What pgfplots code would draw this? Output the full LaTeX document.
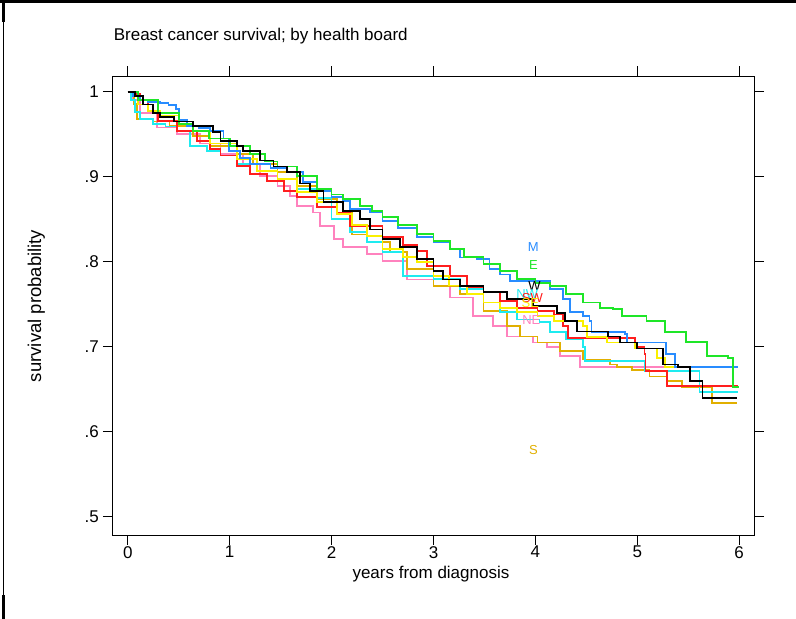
\documentclass[border=0pt]{standalone}
\usepackage{pgfplots}
\pgfplotsset{compat=1.18}
\usepackage{fontspec}
\setmainfont{Liberation Sans}
\definecolor{cM}{RGB}{40,140,255}
\definecolor{cE}{RGB}{30,230,40}
\definecolor{cR}{RGB}{255,30,30}
\definecolor{cY}{RGB}{250,240,0}
\definecolor{cC}{RGB}{30,235,240}
\definecolor{cP}{RGB}{255,130,190}
\definecolor{cG}{RGB}{225,175,0}
\begin{document}
\begin{tikzpicture}[x=1pt,y=1pt]
\useasboundingbox (0,0) rectangle (796,619);
\draw[line width=3pt] (0,617.5) -- (796,617.5);
\draw[line width=1.2pt] (3.5,0) -- (3.5,619);
\draw[line width=2.5pt] (3.5,597) -- (3.5,619);
\draw[line width=2.5pt] (3.5,0) -- (3.5,24);
\begin{axis}[
  at={(113pt,84pt)}, anchor=south west,
  scale only axis, width=641pt, height=459pt,
  xmin=-0.145, xmax=6.145, ymin=0.4785, ymax=1.0185,
  xtick={0,1,2,3,4,5,6}, xticklabels={0,1,2,3,4,5,6},
  ytick={0.5,0.6,0.7,0.8,0.9,1}, yticklabels={.5,.6,.7,.8,.9,1},
  tick align=outside, major tick length=10pt,
  tick style={black, line width=1pt},
  axis line style={line width=1pt},
  ticklabel style={font=\fontsize{17}{20}\selectfont, inner sep=0pt},
  xticklabel style={yshift=-1pt},
  yticklabel style={xshift=-4pt},
  title={Breast cancer survival; by health board},
  title style={font=\fontsize{17}{20}\selectfont, at={(axis description cs:0.001,1.065)}, anchor=base west, inner sep=0pt},
  xlabel={years from diagnosis},
  xlabel style={font=\fontsize{17}{20}\selectfont, at={(axis description cs:0.496,-0.0937)}, anchor=base, inner sep=0pt},
  ylabel={survival probability},
  ylabel style={font=\fontsize{18.5}{21}\selectfont, at={(axis description cs:-0.112,0.499)}, anchor=base, inner sep=0pt},
  every axis plot/.append style={const plot, line width=1.8pt, line join=miter, mark=none},
  clip=false,
]
% pink (NE)
\addplot[cP] coordinates {(0,1) (0.05,0.99) (0.12,0.975) (0.29,0.958) (0.48,0.95) (0.71,0.939) (0.91,0.927) (1.13,0.915) (1.3,0.901) (1.47,0.889) (1.59,0.877) (1.66,0.866) (1.82,0.858) (1.89,0.842) (2.02,0.827) (2.11,0.817) (2.35,0.809) (2.5,0.801) (2.74,0.779) (3.0,0.771) (3.16,0.758) (3.39,0.736) (3.58,0.724) (3.72,0.712) (3.98,0.705) (4.11,0.70) (4.24,0.689) (4.44,0.676) (5.99,0.676)};
% gold (S)
\addplot[cG] coordinates {(0,1) (0.06,0.986) (0.09,0.968) (0.25,0.965) (0.41,0.96) (0.64,0.948) (0.81,0.936) (1.07,0.927) (1.23,0.915) (1.47,0.906) (1.66,0.889) (1.86,0.874) (2.05,0.858) (2.2,0.832) (2.35,0.823) (2.57,0.811) (2.74,0.791) (3.0,0.771) (3.26,0.762) (3.49,0.742) (3.72,0.724) (3.85,0.712) (4.02,0.705) (4.24,0.695) (4.47,0.685) (4.73,0.679) (4.8,0.676) (4.95,0.673) (5.12,0.665) (5.29,0.66) (5.44,0.653) (5.73,0.634) (5.98,0.634)};
% cyan (NW)
\addplot[cC] coordinates {(0,1) (0.03,0.99) (0.07,0.976) (0.12,0.968) (0.25,0.962) (0.37,0.959) (0.48,0.954) (0.61,0.936) (0.78,0.93) (0.91,0.925) (1.07,0.915) (1.27,0.907) (1.47,0.898) (1.66,0.886) (1.86,0.875) (2.0,0.85) (2.18,0.835) (2.35,0.823) (2.5,0.811) (2.7,0.783) (3.0,0.78) (3.26,0.768) (3.49,0.752) (3.65,0.741) (3.82,0.732) (4.04,0.729) (4.14,0.717) (4.3,0.709) (4.47,0.70) (4.49,0.683) (5.06,0.683) (5.07,0.671) (5.6,0.671) (5.61,0.647) (5.99,0.647)};
% red (SW)
\addplot[cR] coordinates {(0,1) (0.05,0.997) (0.12,0.99) (0.2,0.978) (0.3,0.966) (0.48,0.954) (0.68,0.942) (0.81,0.933) (0.91,0.925) (1.07,0.913) (1.2,0.903) (1.37,0.895) (1.53,0.883) (1.66,0.876) (1.86,0.864) (2.05,0.858) (2.18,0.842) (2.5,0.829) (2.7,0.82) (2.84,0.813) (2.94,0.795) (3.16,0.783) (3.33,0.77) (3.49,0.764) (3.65,0.754) (3.82,0.746) (4.02,0.742) (4.18,0.738) (4.27,0.724) (4.32,0.71) (4.93,0.71) (4.98,0.70) (5.07,0.691) (5.08,0.671) (5.29,0.654) (5.99,0.654)};
% yellow (SE)
\addplot[cY] coordinates {(0,1) (0.1,0.985) (0.2,0.977) (0.32,0.972) (0.5,0.962) (0.64,0.954) (0.81,0.939) (1.07,0.921) (1.27,0.907) (1.47,0.897) (1.66,0.882) (1.86,0.87) (2.05,0.856) (2.2,0.843) (2.35,0.83) (2.5,0.815) (2.7,0.806) (2.84,0.8) (3.0,0.783) (3.15,0.772) (3.33,0.762) (3.49,0.752) (3.65,0.746) (3.82,0.741) (4.02,0.736) (4.18,0.73) (4.47,0.724) (4.51,0.711) (4.7,0.705) (4.98,0.698) (5.19,0.687) (5.27,0.676) (5.99,0.676)};
% blue (M)
\addplot[cM] coordinates {(0,1) (0.05,0.995) (0.12,0.99) (0.2,0.988) (0.32,0.987) (0.4,0.984) (0.47,0.98) (0.5,0.967) (0.58,0.96) (0.7,0.957) (0.81,0.954) (0.94,0.945) (0.99,0.93) (1.1,0.922) (1.2,0.915) (1.4,0.91) (1.56,0.906) (1.72,0.894) (1.86,0.883) (2.0,0.876) (2.11,0.871) (2.18,0.862) (2.38,0.858) (2.5,0.848) (2.65,0.84) (2.84,0.829) (3.0,0.823) (3.16,0.815) (3.26,0.805) (3.43,0.803) (3.55,0.791) (3.65,0.785) (3.75,0.777) (3.98,0.777) (4.14,0.768) (4.27,0.756) (4.34,0.741) (4.47,0.736) (4.53,0.73) (4.55,0.717) (4.88,0.715) (4.9,0.705) (5.27,0.705) (5.28,0.691) (5.37,0.676) (5.99,0.676)};
% green (E)
\addplot[cE] coordinates {(0,1) (0.1,0.99) (0.3,0.975) (0.5,0.962) (0.64,0.954) (0.8,0.945) (1.0,0.936) (1.2,0.927) (1.35,0.918) (1.47,0.912) (1.66,0.901) (1.86,0.886) (2.0,0.879) (2.11,0.874) (2.28,0.866) (2.4,0.86) (2.5,0.853) (2.65,0.843) (2.84,0.833) (3.0,0.824) (3.16,0.815) (3.3,0.806) (3.49,0.797) (3.65,0.789) (3.82,0.78) (4.0,0.775) (4.14,0.771) (4.3,0.762) (4.47,0.752) (4.63,0.746) (4.76,0.744) (4.85,0.736) (5.09,0.73) (5.27,0.717) (5.48,0.706) (5.68,0.689) (5.89,0.687) (5.94,0.653) (5.99,0.652)};
% black (W)
\addplot[black] coordinates {(0,1) (0.07,0.995) (0.15,0.985) (0.25,0.975) (0.32,0.97) (0.45,0.965) (0.64,0.96) (0.84,0.953) (0.91,0.942) (1.07,0.936) (1.13,0.93) (1.3,0.919) (1.43,0.912) (1.56,0.906) (1.69,0.892) (1.79,0.883) (1.92,0.87) (2.11,0.86) (2.28,0.85) (2.38,0.838) (2.5,0.827) (2.67,0.817) (2.84,0.803) (3.0,0.789) (3.09,0.779) (3.26,0.771) (3.49,0.764) (3.72,0.756) (3.98,0.748) (4.21,0.74) (4.29,0.73) (4.41,0.718) (4.71,0.712) (4.83,0.705) (5.0,0.698) (5.25,0.679) (5.4,0.676) (5.52,0.66) (5.64,0.64) (5.98,0.64)};
\begin{scope}[every node/.style={font=\fontsize{13}{15}\selectfont, inner sep=0pt}]
\node[text=cM] at (axis cs:3.98,0.817) {M};
\node[text=cE] at (axis cs:3.98,0.796) {E};
\node[text=black] at (axis cs:3.99,0.771) {W};
\node[text=cC] at (axis cs:3.92,0.762) {NW};
\node[text=cR] at (axis cs:3.97,0.757) {SW};
\node[text=cY] at (axis cs:3.95,0.751) {SE};
\node[text=cP] at (axis cs:3.96,0.731) {NE};
\node[text=cG] at (axis cs:3.98,0.578) {S};
\end{scope}
\end{axis}
\end{tikzpicture}
\end{document}
